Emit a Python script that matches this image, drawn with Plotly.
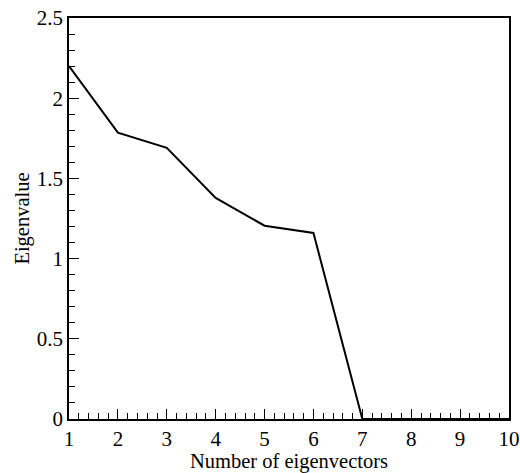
import plotly.graph_objects as go

x_vals = [1, 2, 3, 4, 5, 6, 7, 8, 9, 10]
eigenvalues = [2.2, 1.785, 1.69, 1.378, 1.205, 1.16, 0, 0, 0, 0]
x_ticks = [1, 2, 3, 4, 5, 6, 7, 8, 9, 10]
y_ticks = [0, 0.5, 1, 1.5, 2, 2.5]
y_tick_labels = ["0", "0.5", "1", "1.5", "2", "2.5"]

fig = go.Figure()
fig.add_trace(go.Scatter(x=x_vals, y=eigenvalues, mode="lines",
                         line=dict(color="black", width=2), showlegend=False,
                         cliponaxis=False))

font = "Liberation Serif, Times New Roman, serif"
fig.update_layout(
    width=520, height=473,
    margin=dict(l=69, r=11, t=18, b=54),
    paper_bgcolor="white", plot_bgcolor="white",
    font=dict(family=font, color="black"),
    xaxis=dict(range=[1, 10], tickvals=x_ticks, ticktext=[str(v) for v in x_ticks],
               ticks="inside", ticklen=10, tickwidth=1.4, tickcolor="black",
               minor=dict(ticks="inside", dtick=0.2, ticklen=6, tickwidth=1.2, tickcolor="black"),
               showline=True, linecolor="black", linewidth=1.8, mirror=True,
               showgrid=False, zeroline=False, automargin=False,
               tickfont=dict(size=21, family=font),
               title=dict(text="Number of eigenvectors", font=dict(size=20.5, family=font), standoff=12)),
    yaxis=dict(range=[0, 2.5], tickvals=y_ticks, ticktext=y_tick_labels,
               ticks="inside", ticklen=10, tickwidth=1.4, tickcolor="black",
               minor=dict(ticks="inside", dtick=0.1, ticklen=6, tickwidth=1.2, tickcolor="black"),
               showline=True, linecolor="black", linewidth=1.8, mirror=True,
               showgrid=False, zeroline=False, automargin=False,
               tickfont=dict(size=21, family=font),
               title=dict(text="Eigenvalue", font=dict(size=20.5, family=font), standoff=1)),
)

fig.write_html("out.html")
